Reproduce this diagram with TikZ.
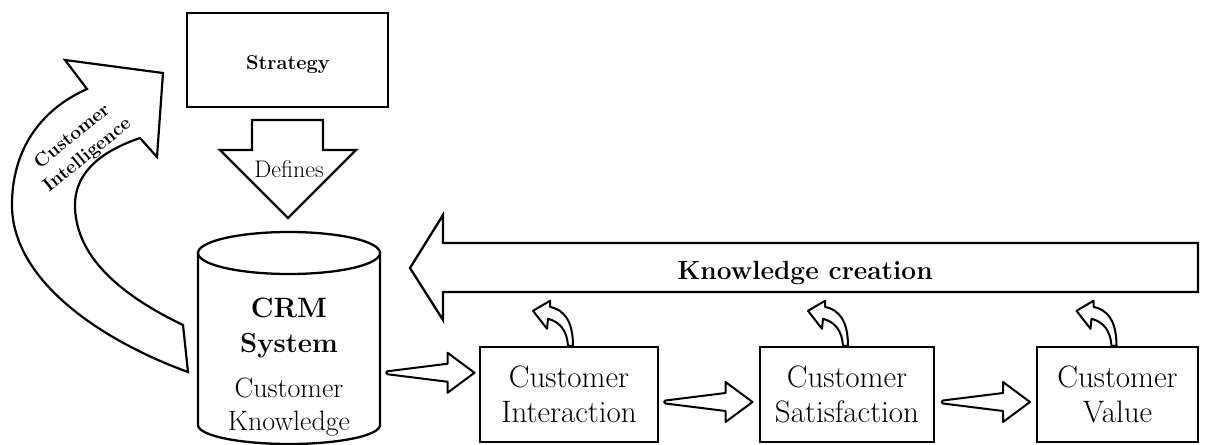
\documentclass[tikz,border=0pt]{standalone}
\usepackage{fontspec}
\usetikzlibrary{calc}
\begin{document}
\begin{tikzpicture}[x=1pt,y=-1pt,
  outline/.style={draw=black, line width=2.3pt, fill=white, line join=miter},
  thinline/.style={draw=black, line width=2pt, fill=white, line join=round},
  boxnode/.style={draw=black, line width=2.4pt, fill=white, inner sep=0pt,
    align=center, minimum height=95pt},
  boxtext/.style={font=\fontsize{31}{35}\selectfont},
  label/.style={anchor=base, inner sep=0pt},
  flowarrow/.pic={
    \draw[thinline] (-43.5,-1.5) -- (16.5,-9) -- (16.5,-20) -- (43.5,0)
      -- (16.5,20) -- (16.5,9) -- (-43.5,1.5) -- (-45,0) -- cycle;},
  feedarrow/.pic={
    \draw[thinline] (3,0) .. controls (3,-25) and (-6,-36) .. (-20,-39)
      -- (-20,-45) -- (-37,-35) -- (-23,-17) -- (-22,-27)
      .. controls (-10,-24) and (-3,-15) .. (-2,0) -- cycle;}
]
\useasboundingbox (0,0) rectangle (1214,444);

% Strategy box and the "Defines" block arrow
\node[boxnode, minimum width=201pt, minimum height=94pt] (strategy) at (287.5,60) {};
\node[label, font=\bfseries\fontsize{20}{22}\selectfont] (strategytext) at (288,69) {Strategy};
\draw[outline] (252,120) -- (323,120) -- (323,150) -- (356,150) -- (288,218)
  -- (220,150) -- (252,150) -- cycle;
\node[label, font=\fontsize{24}{28}\selectfont] (defines) at (289,177) {Defines};

% CRM system drum
\draw[outline] (198,253) -- (198,425)
  arc[start angle=180, end angle=0, x radius=91, y radius=19] -- (380,253);
\draw[outline] (289,253) ellipse[x radius=91, y radius=21];
\node[minimum width=182pt, minimum height=190pt, inner sep=0pt] (cyl) at (289,339) {};
\node[label, font=\bfseries\fontsize{28}{35}\selectfont] (crm1) at (289,317) {CRM};
\node[label, font=\bfseries\fontsize{27.5}{35}\selectfont] (crm2) at (289,352) {System};
\node[label, font=\fontsize{28}{32}\selectfont] (ck1) at (289,397) {Customer};
\node[label, font=\fontsize{28}{32}\selectfont] (ck2) at (289,430) {Knowledge};

% Customer Intelligence curved arrow
\draw[outline, line width=2.2pt] (65,60) -- (87,89)
  .. controls (40,110) and (12,150) .. (12,205)
  .. controls (12,280) and (100,340) .. (188,372)
  -- (183,325)
  .. controls (110,290) and (75,250) .. (75,205)
  .. controls (75,170) and (105,150) .. (140,138)
  -- (157,157) -- (163,73) -- cycle;
\node[rotate=39, align=center, font=\bfseries\fontsize{19}{24}\selectfont]
  (ci) at (80,146) {Customer\\Intelligence};

% Knowledge creation arrow
\draw[outline] (1198,243) -- (443,243) -- (443,215) -- (410,268) -- (443,320)
  -- (443,292) -- (1198,292) -- cycle;
\node[label, font=\bfseries\fontsize{26.3}{30}\selectfont] (kc) at (805,279) {Knowledge creation};

% Process boxes
\node[boxnode, boxtext, minimum width=178pt] (int) at (569,394.5) {Customer\\Interaction};
\node[boxnode, boxtext, minimum width=174pt] (sat) at (847,394.5) {Customer\\Satisfaction};
\node[boxnode, boxtext, minimum width=161pt] (val) at (1117.5,394.5) {Customer\\Value};

% Flow arrows between the stages
\pic at ($(cyl.east)!0.5!(int.west)+(1.5,6)$) {flowarrow};
\pic at ($(int.east)!0.5!(sat.west)+(0,7.5)$) {flowarrow};
\pic at ($(sat.east)!0.5!(val.west)+(1,7.5)$) {flowarrow};

% Feedback arrows into knowledge creation
\pic at ($(int.north)+(1,0)$) {feedarrow};
\pic at ($(sat.north)+(-2,0)$) {feedarrow};
\pic at ($(val.north)+(-4,0)$) {feedarrow};
\end{tikzpicture}
\end{document}
